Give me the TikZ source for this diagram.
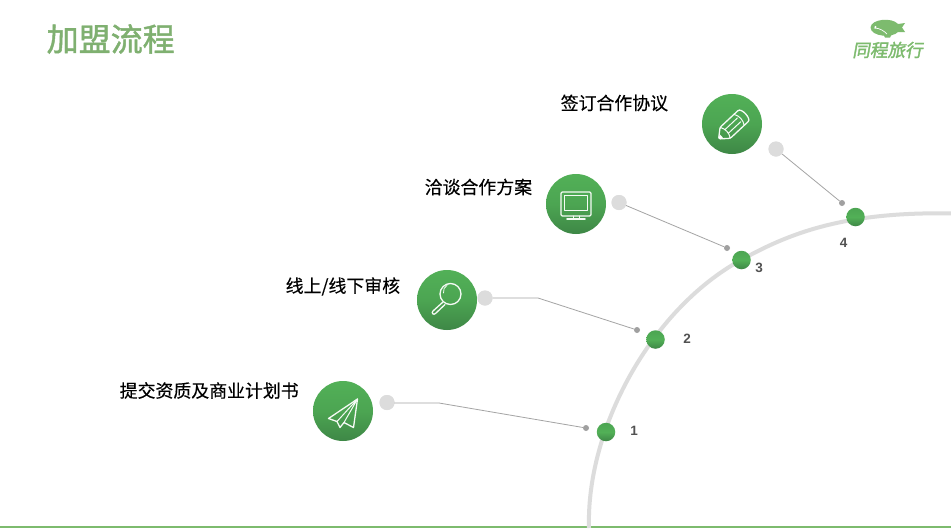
\documentclass[tikz,border=0pt]{standalone}
\usepackage{fontspec}
\setmainfont{Liberation Sans}
\newfontfamily\cjk{Noto Sans CJK SC}
\newfontfamily\cjkmed[FakeBold=0.35]{Noto Sans CJK SC}
\newfontfamily\titlefont[FakeBold=1.4]{Noto Sans CJK SC}
\newfontfamily\logofont[FakeSlant=0.18,FakeBold=1.8]{Noto Sans CJK SC}
\definecolor{titlegreen}{HTML}{7FB070}
\definecolor{logogreen}{HTML}{7DBB6E}
\definecolor{arcgray}{HTML}{DCDCDC}
\definecolor{linegray}{HTML}{A4A4A4}
\definecolor{dotgray}{HTML}{A0A0A0}
\definecolor{gtop}{HTML}{52B057}
\definecolor{gmid}{HTML}{4CA552}
\definecolor{gbot}{HTML}{3E8746}
\tikzset{
  iconball/.style={circle,minimum size=60pt,inner sep=0pt,top color=gtop,bottom color=gbot,middle color=gmid},
  stepball/.style={circle,minimum size=18.5pt,inner sep=0pt,top color=gmid,bottom color=gbot,middle color=gtop},
  graydot/.style={circle,minimum size=15pt,inner sep=0pt,fill=arcgray},
  smalldot/.style={circle,minimum size=6pt,inner sep=0pt,fill=dotgray},
  leader/.style={draw=linegray,line width=0.8pt},
  glyph/.style={draw=white!94!gtop,line width=1.3pt,line join=round,line cap=round},
  stepnum/.style={font=\bfseries\fontsize{13.5}{14}\selectfont,text=black!68,inner sep=0pt},
  steplabel/.style={font=\cjkmed\fontsize{17.9}{18}\selectfont,text=black,inner sep=0pt,anchor=west}
}
\begin{document}
\begin{tikzpicture}[x=1pt,y=-1pt]
\useasboundingbox (0,0) rectangle (951,528);
\fill[white] (0,0) rectangle (951,528);
% base line
\fill[logogreen] (0,526) rectangle (951,528);
% title
\node[anchor=west,inner sep=0pt,text=titlegreen,font=\titlefont\fontsize{32}{32}\selectfont] (title) at (46.5,39) {加盟流程};
% logo
\fill[logogreen] (870.5,27.5) .. controls (871,19) and (892,17) .. (898,24)
  -- (905,23) -- (902,27.5) -- (905,32) -- (898,32) .. controls (893,38) and (871,37) .. (870.5,27.5) -- cycle;
\fill[logogreen] (883,34) -- (892,34) -- (890,37.5) -- (885,37.5) -- cycle;
\draw[white,line width=0.7pt] (874,28) .. controls (880,28) and (884,31) .. (887,34);
\fill[white] (875.5,27) circle (1.1pt);
\node[inner sep=0pt,text=logogreen,font=\logofont\fontsize{17.6}{18}\selectfont] (logo) at (887.5,50) {同程旅行};
% arc
\draw[arcgray,line width=4pt] (589,528) .. controls (586,430) and (650,310) .. (741,260)
  .. controls (785,235.8) and (840,211) .. (953,213.5);
% small dots, gray dots
\node[graydot] (g1) at (387,402.5) {};
\node[graydot] (g2) at (485,298) {};
\node[graydot] (g3) at (619,202.5) {};
\node[graydot] (g4) at (776,149) {};
\node[smalldot] (s1) at (586,428) {};
\node[smalldot] (s2) at (637,330) {};
\node[smalldot] (s3) at (727,248) {};
\node[smalldot] (s4) at (842,203) {};
\coordinate (b1) at (439,403);
\coordinate (b2) at (538,298);
% connectors
\draw[leader] (g1 |- b1) -- (b1) -- (s1);
\draw[leader] (g2.east) -- (b2) -- (s2);
\draw[leader] (g3) -- (s3);
\draw[leader] (g4) -- (s4);
\node[graydot] at (g1) {};
\node[graydot] at (g2) {};
\node[graydot] at (g3) {};
\node[graydot] at (g4) {};
% step balls
\node[stepball] (p1) at (606,432) {};
\node[stepball] (p2) at (655.5,339.5) {};
\node[stepball] (p3) at (741.5,260) {};
\node[stepball] (p4) at (855.5,217) {};
\node[stepnum] (n1) at (634,430.5) {1};
\node[stepnum] (n2) at (687,338.5) {2};
\node[stepnum] (n3) at (759,268) {3};
\node[stepnum] (n4) at (843.5,243) {4};
% icon balls
\node[iconball] (i1) at (343,411) {};
\node[iconball] (i2) at (447,300) {};
\node[iconball] (i3) at (576,204) {};
\node[iconball] (i4) at (732,124) {};
% labels
\node[steplabel] (l1) at (119.5,390.5) {提交资质及商业计划书};
\node[steplabel] (l2) at (285.5,286.5) {线上/线下审核};
\node[steplabel] (l3) at (424.5,187) {洽谈合作方案};
\node[steplabel] (l4) at (560.5,103) {签订合作协议};
% plane icon
\draw[glyph] (357.5,399) -- (328.5,418.5) -- (337,421.5) -- (340,427.5) -- (344,422.5) -- (353.5,427.5) -- cycle;
\draw[glyph,line width=1pt] (357.5,399) -- (337,421.5) (357.5,399) -- (344,422.5);
% magnifier icon
\draw[glyph] (450.5,294) circle (10.5pt);
\draw[glyph,line width=0.8pt] (443.5,293) arc (190:120:7.5pt);
\draw[glyph] (443,302) -- (433,311) .. controls (431,313) and (433.5,315.5) .. (435.5,313.5) -- (445,304.5);
% monitor icon
\draw[glyph,rounded corners=1.2pt] (561,192) rectangle (591,216);
\draw[glyph,line width=1pt] (564.5,195.5) rectangle (587.5,210);
\draw[glyph,line width=1pt] (573,216) -- (573,218.5) (579,216) -- (579,218.5);
\draw[glyph,line width=1.6pt] (567,219) -- (585,219);
% pencil icon
\begin{scope}[shift={(732.5,126)},rotate=43]
\draw[glyph,rounded corners=1.5pt] (-19,0) -- (-10,-7.5) -- (13,-7.5) .. controls (19,-7.5) and (19,7.5) .. (13,7.5) -- (-10,7.5) -- cycle;
\draw[glyph,line width=1pt] (-10,-7.5) .. controls (-7,-3) and (-7,3) .. (-10,7.5);
\draw[glyph,line width=1pt] (-8,-2.5) -- (9,-2.5) (-8,2.5) -- (9,2.5);
\draw[glyph,line width=1pt] (9,-7.5) .. controls (12,-3) and (12,3) .. (9,7.5);
\fill[white] (-19,0) -- (-15,-2.5) -- (-15,2.5) -- cycle;
\end{scope}
\end{tikzpicture}
\end{document}
